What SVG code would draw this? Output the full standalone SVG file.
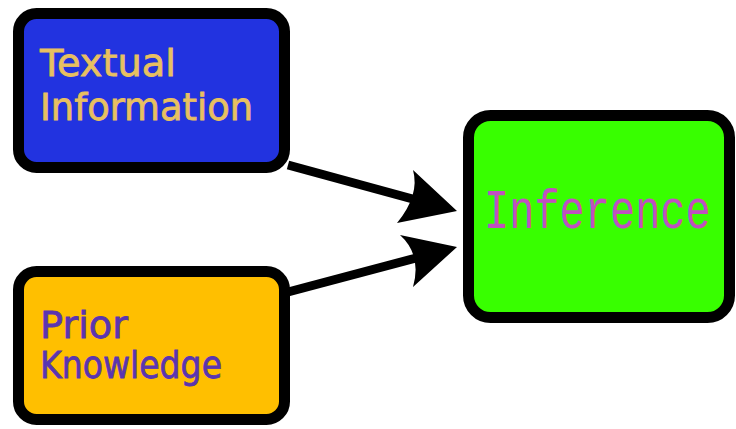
<svg xmlns="http://www.w3.org/2000/svg" width="736" height="429" viewBox="0 0 736 429">
<style>
.box{stroke:#000;stroke-width:11}
.lbl{font-family:"DejaVu Sans",sans-serif;font-size:38px;stroke-width:0.8px}
.edge{stroke:#000;stroke-width:9;fill:none}
</style>
<rect width="736" height="429" fill="#fff"/>
<g id="connectors">
<line class="edge" x1="288" y1="165" x2="420" y2="201"/>
<path d="M457,211 L413,170 Q420,195 397,223 Z" fill="#000"/>
<line class="edge" x1="288" y1="292" x2="420" y2="257"/>
<path d="M457,247 L400,235 Q422,255 413,287 Z" fill="#000"/>
</g>
<g id="textual">
<rect class="box" x="18.5" y="13.5" width="266" height="154" rx="18" fill="#2233e0"/>
<text class="lbl" fill="#e8c060" stroke="#e8c060" x="40" y="76" textLength="136" lengthAdjust="spacingAndGlyphs">Textual</text>
<text class="lbl" fill="#e8c060" stroke="#e8c060" x="40" y="120" textLength="213" lengthAdjust="spacingAndGlyphs">Information</text>
</g>
<g id="prior">
<rect class="box" x="18.5" y="271.5" width="266" height="148" rx="18" fill="#ffbf00"/>
<text class="lbl" fill="#5a35b0" stroke="#5a35b0" x="40" y="338" textLength="88" lengthAdjust="spacingAndGlyphs">Prior</text>
<text class="lbl" fill="#5a35b0" stroke="#5a35b0" x="40" y="378" textLength="182" lengthAdjust="spacingAndGlyphs">Knowledge</text>
</g>
<g id="inference">
<rect class="box" x="468.5" y="115.5" width="261" height="202" rx="22" fill="#38ff00"/>
<text fill="#c050c0" font-family="'Liberation Mono',monospace" font-size="42" transform="translate(484,228) scale(1,1.3)" x="0" y="0">Inference</text>
</g>
</svg>
